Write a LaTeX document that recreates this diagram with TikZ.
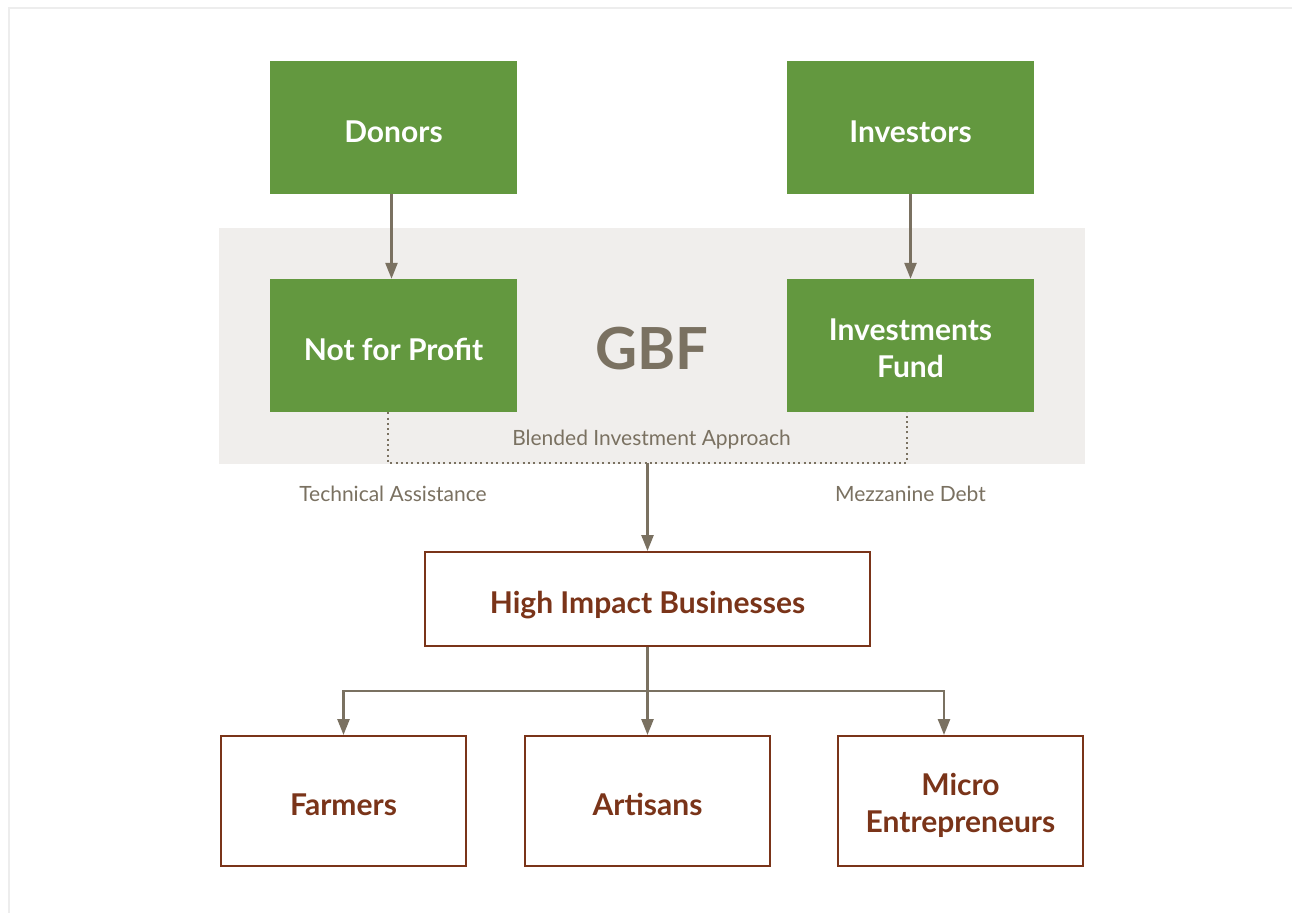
\documentclass[tikz,border=0pt]{standalone}
\usepackage{fontspec}
\setmainfont{Lato}
\usetikzlibrary{arrows.meta}
\definecolor{gbfgreen}{HTML}{63983F}
\definecolor{gbfbrown}{HTML}{7A3419}
\definecolor{gbfgray}{HTML}{7A7161}
\definecolor{gbfband}{HTML}{F0EEEC}
\definecolor{gbfframe}{HTML}{EDEDED}
\begin{document}
\begin{tikzpicture}[x=1pt,y=-1pt,
  boxfont/.style={font=\fontsize{30}{37}\selectfont\bfseries},
  oneline/.style={text height=29pt, text depth=0pt},
  twoline/.style={text height=65pt, text depth=2pt},
  greenbox/.style={fill=gbfgreen, text=white, minimum width=247pt, minimum height=133pt, inner sep=0pt, align=center, boxfont, oneline},
  brownbox/.style={draw=gbfbrown, line width=2pt, fill=white, text=gbfbrown, minimum width=245pt, minimum height=130pt, inner sep=0pt, align=center, boxfont, oneline},
  conn/.style={draw=gbfgray, line width=2.5pt, -{Triangle[width=12pt,length=16pt]}},
  dotline/.style={draw=gbfgray, line width=2pt, dash pattern=on 2pt off 3.3pt},
  lbl/.style={text=gbfgray, inner sep=0pt, font=\fontsize{21}{25}\selectfont}
]
\useasboundingbox (0,0) rectangle (1292,913);
\fill[white] (0,0) rectangle (1292,913);
\draw[gbfframe, line width=2.5pt] (9,913) -- (9,8) -- (1292,8);

% GBF band
\fill[gbfband] (219,228) rectangle (1085,464);
\node[text=gbfgray, font=\fontsize{58}{66}\selectfont\bfseries] (gbf) at (652,349) {GBF};

% green boxes
\node[greenbox] (donors) at (393.5,127.5) {Donors};
\node[greenbox] (investors) at (910.5,127.5) {Investors};
\node[greenbox] (nfp) at (393.5,345.5) {Not for Profit};
\node[greenbox, twoline] (ivf) at (910.5,345.5) {Investments\\Fund};

% labels
\node[lbl, anchor=base] (blendlbl) at (651.5,445) {Blended Investment Approach};
\node[lbl, anchor=base] (talbl) at (393,501) {Technical Assistance};
\node[lbl, anchor=base] (mezzlbl) at (910.5,501) {Mezzanine Debt};

% brown boxes
\node[brownbox, minimum width=445pt, minimum height=94pt] (hib) at (647.5,599) {High Impact Businesses};
\node[brownbox] (farmers) at (343.5,801) {Farmers};
\node[brownbox] (artisans) at (647.5,801) {Artisans};
\node[brownbox, twoline] (micro) at (960.5,801) {Micro\\Entrepreneurs};

% connectors
\coordinate (blend) at (647.5,463);
\coordinate (split) at (647.5,691);
\draw[conn] ([xshift=-2pt]donors.south) -- ([xshift=-2pt]nfp.north);
\draw[conn] (investors.south) -- (ivf.north);
\draw[dotline] ([xshift=-5.5pt]nfp.south) |- (blend) -| ([xshift=-4pt]ivf.south);
\draw[conn] (blend) -- (hib.north);
\draw[conn] (hib.south) -- (artisans.north);
\draw[conn] (split) -| (farmers.north);
\draw[conn] (split) -| ([xshift=-16.5pt]micro.north);
\end{tikzpicture}
\end{document}
